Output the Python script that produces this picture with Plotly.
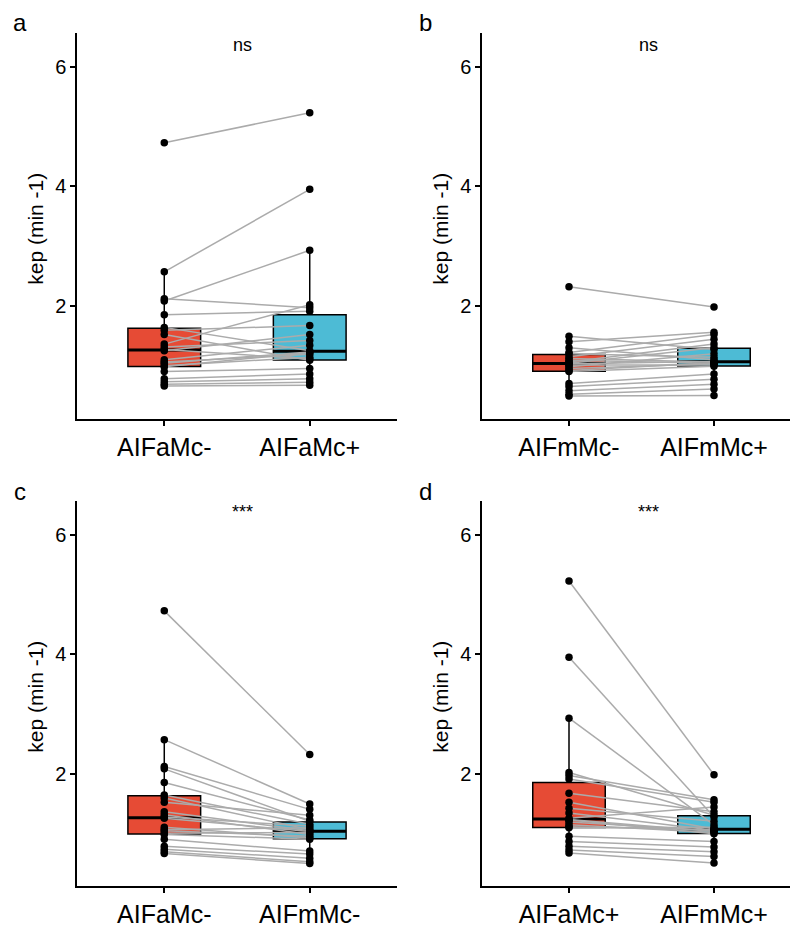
import numpy as np
import plotly.graph_objects as go

# ---- data (paired by subject) ----
AIFaMc_minus = [4.73, 2.57, 2.08, 2.12, 1.85, 1.64, 1.59, 1.52, 1.36, 1.31, 1.27,
                1.25, 1.10, 1.06, 1.04, 1.00, 0.98, 0.90, 0.78, 0.73, 0.69, 0.66]
AIFaMc_plus = [5.23, 3.95, 2.93, 1.97, 1.91, 1.25, 1.67, 1.09, 2.02, 1.42, 1.11,
               1.52, 1.34, 1.19, 1.23, 1.14, 1.22, 0.95, 0.86, 0.78, 0.72, 0.67]
AIFmMc_minus = [2.32, 1.49, 1.20, 1.40, 1.22, 1.15, 1.06, 1.30, 1.04, 0.98, 1.12,
                1.03, 0.92, 1.09, 0.95, 1.01, 0.90, 0.70, 0.65, 0.58, 0.52, 0.49]
AIFmMc_plus = [1.98, 1.27, 1.14, 1.56, 1.52, 1.44, 1.36, 1.10, 1.30, 1.20, 1.06,
               1.07, 1.05, 1.04, 1.03, 1.01, 0.99, 0.86, 0.77, 0.69, 0.61, 0.50]

panels = [
    ("a", "AIFaMc-", AIFaMc_minus, "AIFaMc+", AIFaMc_plus, "ns"),
    ("b", "AIFmMc-", AIFmMc_minus, "AIFmMc+", AIFmMc_plus, "ns"),
    ("c", "AIFaMc-", AIFaMc_minus, "AIFmMc-", AIFmMc_minus, "***"),
    ("d", "AIFaMc+", AIFaMc_plus, "AIFmMc+", AIFmMc_plus, "***"),
]
y_ticks = [2, 4, 6]
y_title = "kep (min -1)"

RED = "#E64B35"
BLUE = "#4DBBD5"
GRAY = "#ABABAB"
FONT = "Liberation Sans, Arial, sans-serif"

W, H = 790, 928

def px(x):
    return x / W

def py(y):
    return 1 - y / H

# panel geometry (pixels)
geo = {
    "a": dict(x0=77, x1=397, y0=33, y1=422, xr=[0.4, 2.6]),
    "b": dict(x0=482, x1=790, y0=33, y1=422, xr=[0.4, 0.4 + 308 / 145]),
    "c": dict(x0=77, x1=397, y0=505, y1=893, xr=[0.4, 2.6]),
    "d": dict(x0=482, x1=790, y0=505, y1=893, xr=[0.4, 0.4 + 308 / 145]),
}
YR = [0.11, 6.57]


def box_stats(v):
    v = np.asarray(v, float)
    q1, med, q3 = np.percentile(v, [25, 50, 75])
    iqr = q3 - q1
    lo = v[v >= q1 - 1.5 * iqr].min()
    hi = v[v <= q3 + 1.5 * iqr].max()
    return q1, med, q3, lo, hi


fig = go.Figure()
annotations = []

for i, (lab, n1, v1, n2, v2, sig) in enumerate(panels):
    k = "" if i == 0 else str(i + 1)
    xa, ya = "x" + k, "y" + k
    g = geo[lab]
    # boxes
    for xpos, vals, col in [(1, v1, RED), (2, v2, BLUE)]:
        q1, med, q3, lo, hi = box_stats(vals)
        fig.add_trace(go.Box(
            x=[xpos], q1=[q1], median=[med], q3=[q3], lowerfence=[lo], upperfence=[hi],
            width=0.5, whiskerwidth=0, fillcolor=col,
            line=dict(color="black", width=1.5), boxpoints=False,
            xaxis=xa, yaxis=ya, showlegend=False, hoverinfo="skip"))
    for xpos, vals in [(1, v1), (2, v2)]:
        med = float(np.median(vals))
        fig.add_trace(go.Scatter(
            x=[xpos - 0.25, xpos + 0.25], y=[med, med], mode="lines",
            line=dict(color="black", width=3), xaxis=xa, yaxis=ya,
            showlegend=False, hoverinfo="skip"))
    # paired lines
    lx, ly = [], []
    for a, b in zip(v1, v2):
        lx += [1, 2, None]
        ly += [a, b, None]
    fig.add_trace(go.Scatter(
        x=lx, y=ly, mode="lines", line=dict(color=GRAY, width=1.5),
        xaxis=xa, yaxis=ya, showlegend=False, hoverinfo="skip"))
    # points
    fig.add_trace(go.Scatter(
        x=[1] * len(v1) + [2] * len(v2), y=list(v1) + list(v2), mode="markers",
        marker=dict(color="black", size=7.5), xaxis=xa, yaxis=ya,
        showlegend=False, hoverinfo="skip"))

    axis_common = dict(showline=True, linecolor="black", linewidth=1.5,
                       ticks="outside", ticklen=5, tickwidth=1.5, tickcolor="black",
                       showgrid=False, zeroline=False)
    fig.update_layout(**{
        ("xaxis" + k): dict(domain=[px(g["x0"]), px(g["x1"])], range=g["xr"],
                            anchor=ya, tickvals=[1, 2], ticktext=[n1, n2],
                            tickfont=dict(size=25, color="black", family=FONT),
                            **axis_common),
        ("yaxis" + k): dict(domain=[py(g["y1"]), py(g["y0"])], range=YR,
                            anchor=xa, tickvals=y_ticks,
                            tickfont=dict(size=20, color="black", family=FONT),
                            **axis_common),
    })
    # panel letter
    annotations.append(dict(x=px(g["x0"] - 57), y=py(g["y0"] - 10), xref="paper", yref="paper",
                            text=lab, showarrow=False, xanchor="center", yanchor="middle",
                            font=dict(size=24, color="black", family=FONT)))
    # y title
    annotations.append(dict(x=px(g["x0"] - 41), y=py((g["y0"] + g["y1"]) / 2 + 3),
                            xref="paper", yref="paper", text=y_title, textangle=-90,
                            showarrow=False, xanchor="center", yanchor="middle",
                            font=dict(size=21, color="black", family=FONT)))
    # significance label
    annotations.append(dict(x=px(g["x0"] + 166), y=py(g["y0"] + (12 if sig == "ns" else 11)),
                            xref="paper", yref="paper", text=sig, showarrow=False,
                            xanchor="center", yanchor="middle",
                            font=dict(size=18, color="black", family=FONT)))

fig.update_layout(width=W, height=H, margin=dict(l=0, r=0, t=0, b=0),
                  paper_bgcolor="white", plot_bgcolor="white",
                  annotations=annotations, font=dict(family=FONT))

fig.write_html("out.html", config={"displayModeBar": False},
               post_script="document.body.style.margin='0';document.body.style.overflow='hidden';")
